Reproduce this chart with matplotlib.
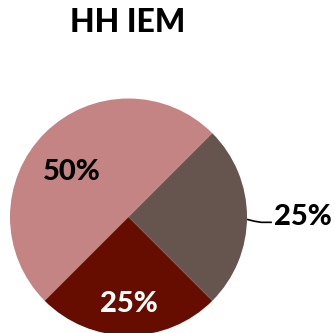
import numpy as np
import matplotlib.pyplot as plt

# Доли по категориям
shares = [50, 25, 25]
pct_labels = ['50%', '25%', '25%']
colors = ['#C48483', '#660D00', '#65554E']
label_colors = ['black', 'white', 'black']
label_radius = [0.61, 0.73, 1.47]

fig = plt.figure(figsize=(3.35, 3.33), dpi=100)
ax = fig.add_axes([0, 0, 1, 1])

wedges, _ = ax.pie(shares, colors=colors, startangle=45, counterclock=True,
                   radius=1.0, wedgeprops=dict(linewidth=0))

for w, txt, c, r in zip(wedges, pct_labels, label_colors, label_radius):
    mid = np.deg2rad((w.theta1 + w.theta2) / 2)
    if mid > np.pi / 2 and mid < np.pi:
        mid = np.deg2rad(141)
    x, y = r * np.cos(mid), r * np.sin(mid)
    ax.text(x, y, txt, ha='center', va='center', color=c, fontsize=21,
            fontweight='black', family=['Lato', 'DejaVu Sans'])
    if r > 1:
        # выноска к подписи снаружи
        x0, y0 = np.cos(mid), np.sin(mid) - 0.02
        ax.plot([x0, 1.06, 1.12, 1.21], [y0, -0.035, -0.045, -0.045],
                color='black', lw=1.2, solid_capstyle='butt')

ax.set_xlim(-1.0844, 1.7426)
ax.set_ylim(-0.9789, 1.8312)
ax.set_aspect('auto')
ax.axis('off')

fig.text(128 / 335, 1 - 22 / 333, 'HH IEM', ha='center', va='center',
         fontsize=23, fontweight='black', family=['Lato', 'DejaVu Sans'])

plt.savefig('out.png', dpi=100)
